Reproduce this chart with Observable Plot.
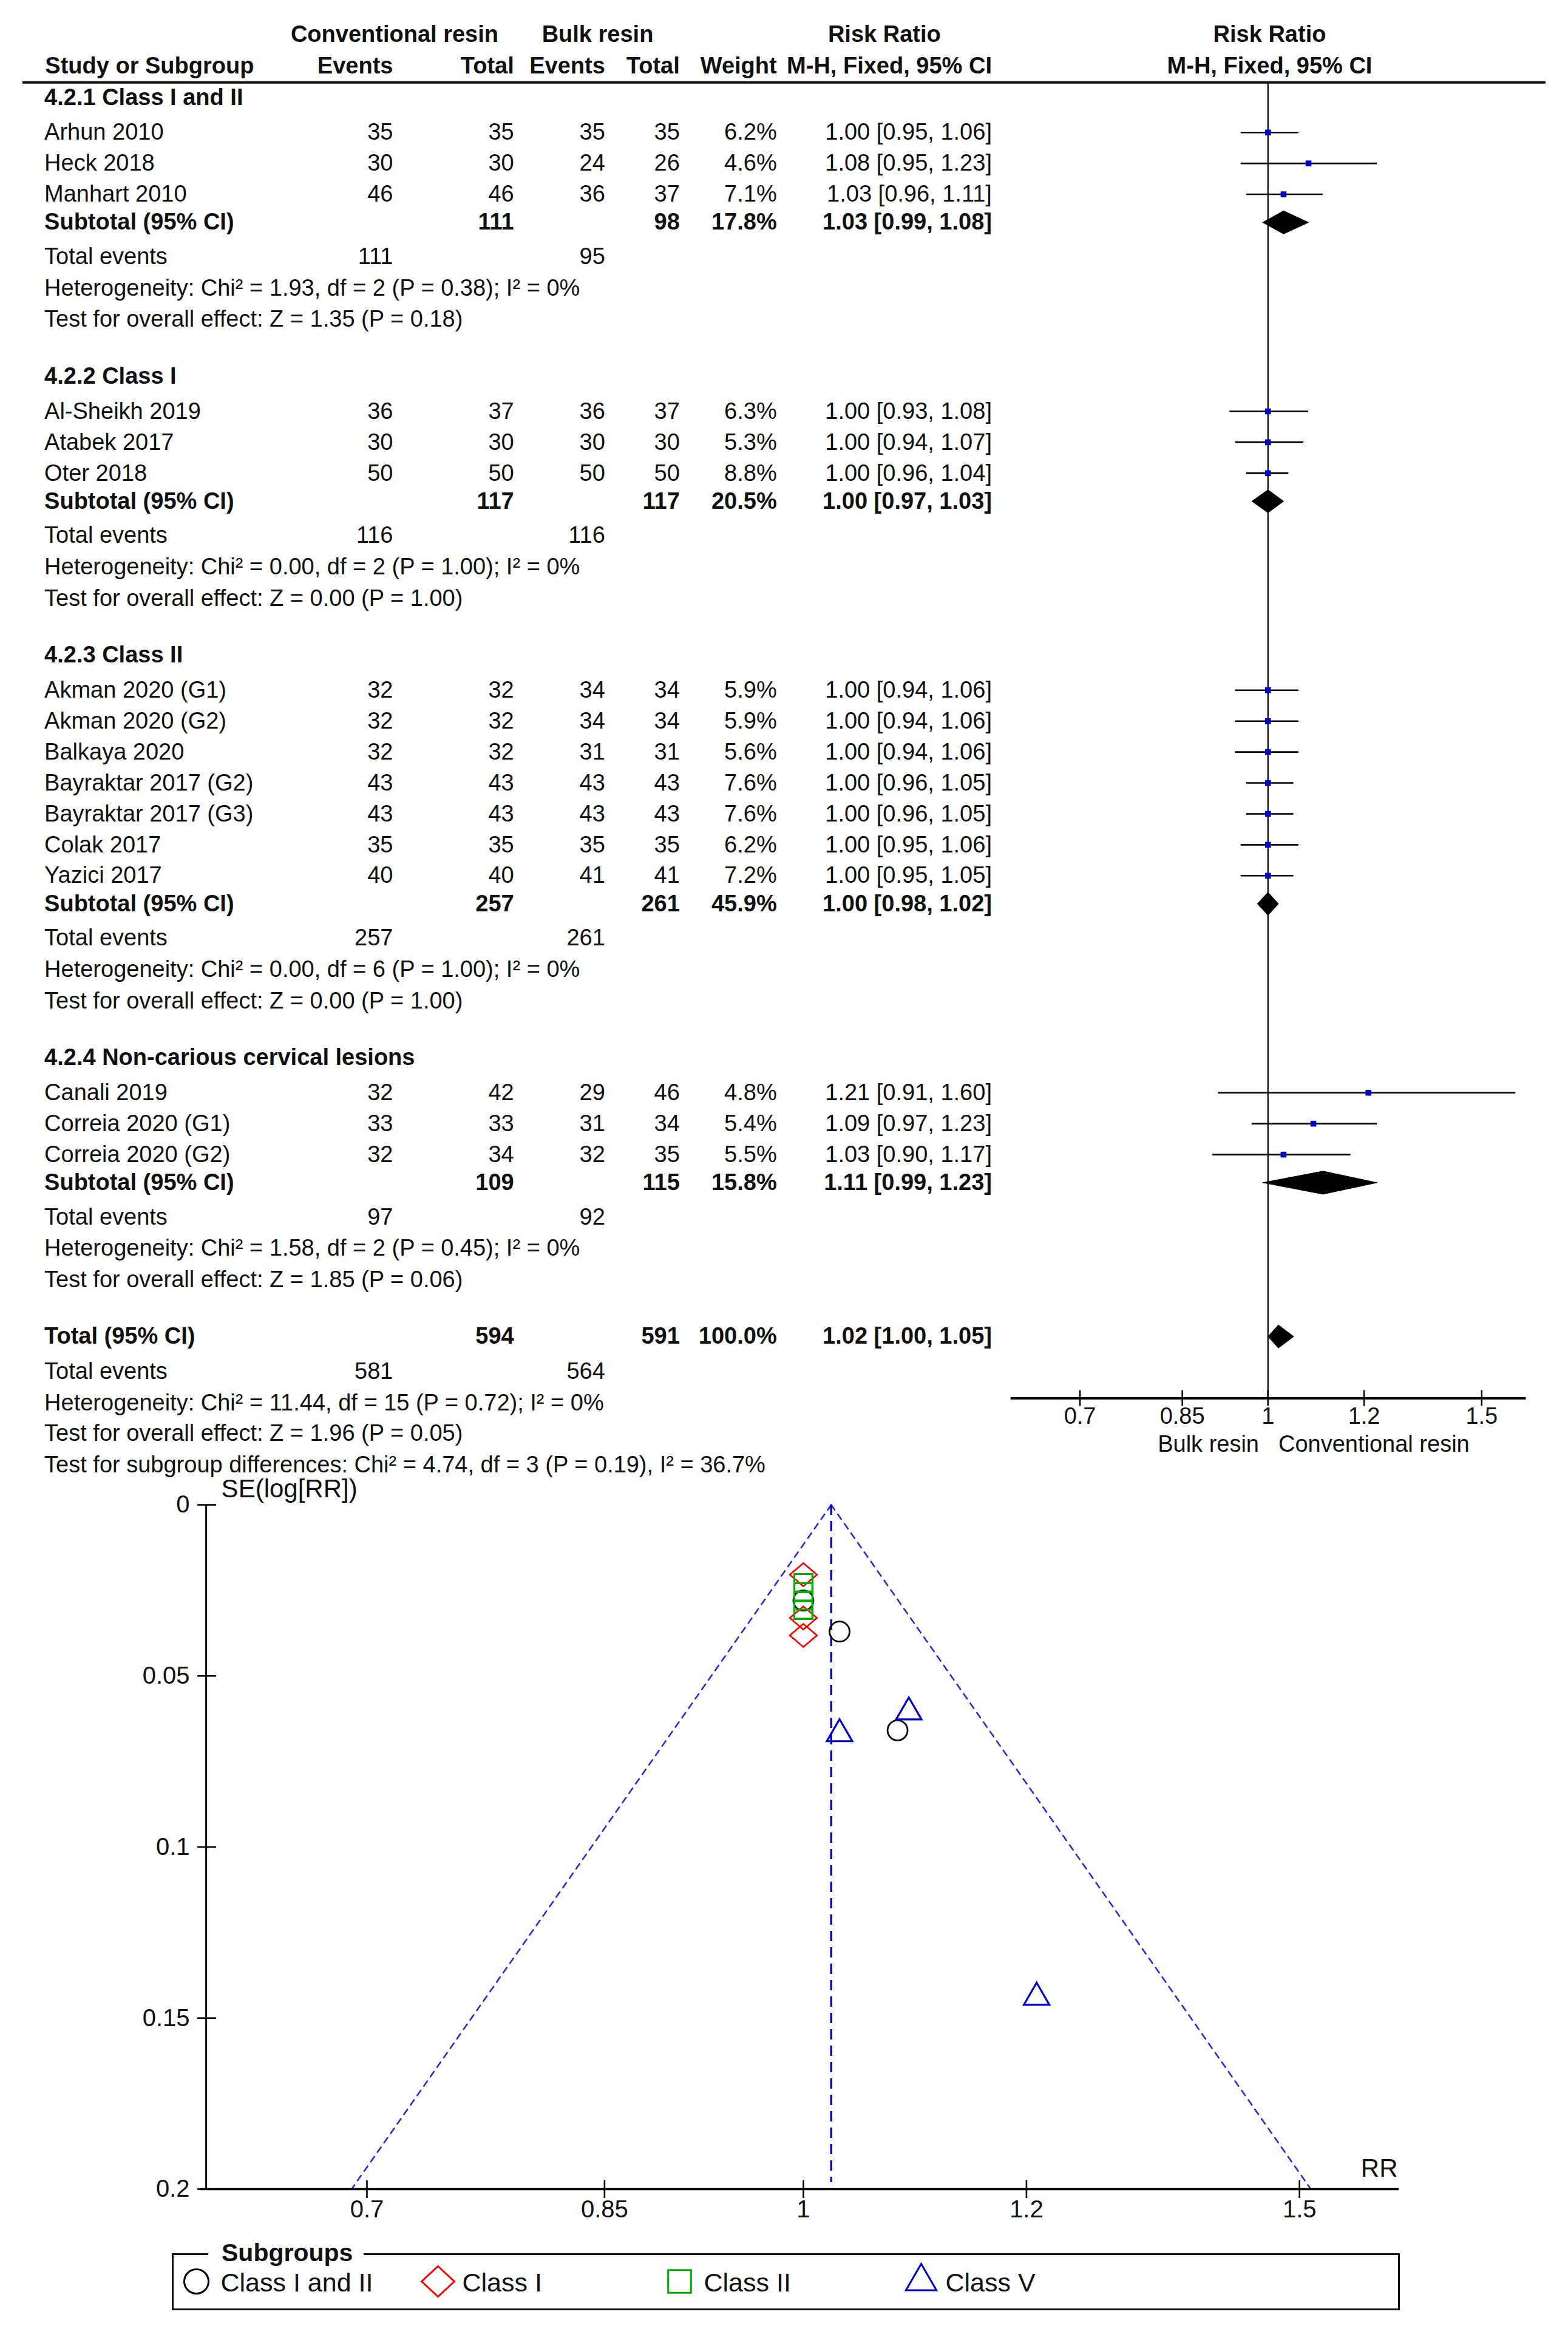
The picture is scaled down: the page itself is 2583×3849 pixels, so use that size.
<!DOCTYPE html>
<html><head><meta charset="utf-8"><title>Forest and funnel plot</title>
<script src="https://cdn.jsdelivr.net/npm/d3@7"></script>
<script src="https://cdn.jsdelivr.net/npm/@observablehq/plot@0.6"></script>
<style>
html,body{margin:0;padding:0;background:#fff}
body{position:relative;width:2583px;height:3849px;overflow:hidden}
.abs{position:absolute}
#lgbox{position:absolute;left:283px;top:3711px;width:2023px;height:94px;box-sizing:border-box;border:3px solid #111}
#lgtitle{position:absolute;left:343px;top:3690px;padding:0 18px 0 22px;background:#fff;font:bold 41px/1 "Liberation Sans",Arial,sans-serif;color:#111}
</style></head><body>
<div id="forest" class="abs" style="left:0;top:0"></div>
<div id="funnel" class="abs" style="left:0;top:2435px"></div>
<div id="lgbox"></div>
<div id="legend" class="abs" style="left:284px;top:3711px"></div>
<div id="lgtitle">Subgroups</div>
<script>
// ===================== DATA =====================
const groupTitles = ["4.2.1 Class I and II", "4.2.2 Class I", "4.2.3 Class II", "4.2.4 Non-carious cervical lesions"];
const legendNames = ["Class I and II", "Class I", "Class II", "Class V"];
const studyNames = ["Arhun 2010", "Heck 2018", "Manhart 2010", "Al-Sheikh 2019", "Atabek 2017", "Oter 2018",
  "Akman 2020 (G1)", "Akman 2020 (G2)", "Balkaya 2020", "Bayraktar 2017 (G2)", "Bayraktar 2017 (G3)", "Colak 2017", "Yazici 2017",
  "Canali 2019", "Correia 2020 (G1)", "Correia 2020 (G2)"];
const studyGroup = [0,0,0, 1,1,1, 2,2,2,2,2,2,2, 3,3,3];
const convEvents = [35,30,46, 36,30,50, 32,32,32,43,43,35,40, 32,33,32];
const convTotal  = [35,30,46, 37,30,50, 32,32,32,43,43,35,40, 42,33,34];
const bulkEvents = [35,24,36, 36,30,50, 34,34,31,43,43,35,41, 29,31,32];
const bulkTotal  = [35,26,37, 37,30,50, 34,34,31,43,43,35,41, 46,34,35];
const weights    = [6.2,4.6,7.1, 6.3,5.3,8.8, 5.9,5.9,5.6,7.6,7.6,6.2,7.2, 4.8,5.4,5.5];
const rrEst  = [1.00,1.08,1.03, 1.00,1.00,1.00, 1.00,1.00,1.00,1.00,1.00,1.00,1.00, 1.21,1.09,1.03];
const rrLow  = [0.95,0.95,0.96, 0.93,0.94,0.96, 0.94,0.94,0.94,0.96,0.96,0.95,0.95, 0.91,0.97,0.90];
const rrHigh = [1.06,1.23,1.11, 1.08,1.07,1.04, 1.06,1.06,1.06,1.05,1.05,1.06,1.05, 1.60,1.23,1.17];

const subConvEvents = [111,116,257,97];
const subConvTotal  = [111,117,257,109];
const subBulkEvents = [95,116,261,92];
const subBulkTotal  = [98,117,261,115];
const subWeight = [17.8,20.5,45.9,15.8];
const subRR   = [1.03,1.00,1.00,1.11];
const subLow  = [0.99,0.97,0.98,0.99];
const subHigh = [1.08,1.03,1.02,1.23];
const subHet = ["Chi\u00B2 = 1.93, df = 2 (P = 0.38); I\u00B2 = 0%", "Chi\u00B2 = 0.00, df = 2 (P = 1.00); I\u00B2 = 0%",
  "Chi\u00B2 = 0.00, df = 6 (P = 1.00); I\u00B2 = 0%", "Chi\u00B2 = 1.58, df = 2 (P = 0.45); I\u00B2 = 0%"];
const subZ = ["Z = 1.35 (P = 0.18)", "Z = 0.00 (P = 1.00)", "Z = 0.00 (P = 1.00)", "Z = 1.85 (P = 0.06)"];

const totalConvEvents = 581, totalConvTotal = 594, totalBulkEvents = 564, totalBulkTotal = 591;
const totalWeight = 100.0, totalRR = 1.02, totalLow = 1.00, totalHigh = 1.05;
const totalHet = "Chi\u00B2 = 11.44, df = 15 (P = 0.72); I\u00B2 = 0%";
const totalZ = "Z = 1.96 (P = 0.05)";
const subgroupDiff = "Chi\u00B2 = 4.74, df = 3 (P = 0.19), I\u00B2 = 36.7%";

const forestTicks = [0.7, 0.85, 1, 1.2, 1.5];
const funnelXTicks = [0.7, 0.85, 1, 1.2, 1.5];
const funnelYTicks = [0, 0.05, 0.1, 0.15, 0.2];
const funnelCenter = 1.023;   // pooled RR line as read from the funnel
const funnelSE = [0, 0.2];

// ===================== LAYOUT =====================
const S = 2583 / 1050;            // reference drawn at 1050 units wide
const px = v => v * S;
const FONT = "Liberation Sans, Arial, Helvetica, sans-serif";
const TXT = 38, FTXT = 40;
const W = 2583, H1 = 2435, H2 = 1265;
const mL = px(15), mR = px(15);
const col = {name: 29.5, ce: 263, ct: 344, be: 405, bt: 455, w: 520, rr: 664, plot: 850};
const headerLineY = px(55), axisY = px(936);
const fmt2 = v => v.toFixed(2);
const rrText = (r, l, h) => `${fmt2(r)} [${fmt2(l)}, ${fmt2(h)}]`;

// build table rows (display-unit y, converted with px)
const rows = [];
const diamonds = [];
let y = 65;
groupTitles.forEach((t, g) => {
  rows.push({y, label: t, bold: true});
  y += 23.5;
  const idx = studyNames.map((_, i) => i).filter(i => studyGroup[i] === g);
  idx.forEach((i, k) => {
    if (k) y += 20.7;
    rows.push({y, study: i, label: studyNames[i], ce: convEvents[i], ct: convTotal[i], be: bulkEvents[i], bt: bulkTotal[i],
      w: weights[i].toFixed(1) + "%", rr: rrText(rrEst[i], rrLow[i], rrHigh[i])});
  });
  y += 18.8;
  rows.push({y, bold: true, label: "Subtotal (95% CI)", ct: subConvTotal[g], bt: subBulkTotal[g], w: subWeight[g].toFixed(1) + "%",
    rr: rrText(subRR[g], subLow[g], subHigh[g])});
  diamonds.push({z: g, est: subRR[g], lo: subLow[g], hi: subHigh[g], y});
  y += 23;
  rows.push({y, label: "Total events", ce: subConvEvents[g], be: subBulkEvents[g]});
  y += 21;
  rows.push({y, label: "Heterogeneity: " + subHet[g]});
  y += 21;
  rows.push({y, label: "Test for overall effect: " + subZ[g]});
  y += 38;
});
rows.push({y, bold: true, label: "Total (95% CI)", ct: totalConvTotal, bt: totalBulkTotal, w: totalWeight.toFixed(1) + "%",
  rr: rrText(totalRR, totalLow, totalHigh)});
diamonds.push({z: 4, est: totalRR, lo: totalLow, hi: totalHigh, y});
y += 23.5; rows.push({y, label: "Total events", ce: totalConvEvents, be: totalBulkEvents});
y += 21;   rows.push({y, label: "Heterogeneity: " + totalHet});
y += 20.5; rows.push({y, label: "Test for overall effect: " + totalZ});
y += 21;   rows.push({y, label: "Test for subgroup differences: " + subgroupDiff});

const headers = [
  {y: 23, t: "Conventional resin", at: 264, a: "middle"},
  {y: 23, t: "Bulk resin", at: 400, a: "middle"},
  {y: 23, t: "Risk Ratio", at: 592, a: "middle"},
  {y: 23, t: "Risk Ratio", at: col.plot, a: "middle"},
  {y: 44, t: "Study or Subgroup", at: 30, a: "start"},
  {y: 44, t: "Events", at: col.ce, a: "end"},
  {y: 44, t: "Total", at: col.ct, a: "end"},
  {y: 44, t: "Events", at: col.be, a: "end"},
  {y: 44, t: "Total", at: col.bt, a: "end"},
  {y: 44, t: "Weight", at: col.w, a: "end"},
  {y: 44, t: "M-H, Fixed, 95% CI", at: col.rr, a: "end"},
  {y: 44, t: "M-H, Fixed, 95% CI", at: col.plot, a: "middle"}
];

function colMarks(field, at, anchor) {
  const data = rows.filter(d => d[field] !== undefined);
  return [false, true].map(b => Plot.text(data.filter(d => !!d.bold === b), {
    y: d => px(d.y), text: field, frameAnchor: "left", dx: px(at) - mL, textAnchor: anchor,
    fontSize: TXT, fontFamily: FONT, fontWeight: b ? "bold" : "normal", fill: "#111"
  }));
}

const studyRows = rows.filter(d => d.study !== undefined);
const dh = 19;
const diamondPts = diamonds.flatMap(d => [
  {z: d.z, x: d.lo, y: px(d.y)}, {z: d.z, x: d.est, y: px(d.y) - dh},
  {z: d.z, x: d.hi, y: px(d.y)}, {z: d.z, x: d.est, y: px(d.y) + dh}, {z: d.z, x: d.lo, y: px(d.y)}
]);

const forest = Plot.plot({
  width: W, height: H1, marginLeft: mL, marginRight: mR, marginTop: 0, marginBottom: 0,
  style: {background: "transparent", overflow: "visible", maxWidth: "none"},
  x: {type: "log", domain: [0.7, 1.5], range: [px(723), px(992)], axis: null},
  y: {type: "linear", domain: [0, H1], range: [0, H1], axis: null},
  marks: [
    ...headers.map(h => Plot.text([h], {y: d => px(d.y), text: "t", frameAnchor: "left", dx: px(h.at) - mL, textAnchor: h.a,
      fontSize: TXT, fontFamily: FONT, fontWeight: "bold", fill: "#111"})),
    Plot.ruleY([headerLineY], {stroke: "#111", strokeWidth: 4}),
    ...colMarks("label", col.name, "start"),
    ...colMarks("ce", col.ce, "end"),
    ...colMarks("ct", col.ct, "end"),
    ...colMarks("be", col.be, "end"),
    ...colMarks("bt", col.bt, "end"),
    ...colMarks("w", col.w, "end"),
    ...colMarks("rr", col.rr, "end"),
    Plot.ruleX([1], {y1: headerLineY, y2: axisY, stroke: "#222", strokeWidth: 2.5}),
    Plot.ruleY(studyRows, {x1: d => rrLow[d.study], x2: d => rrHigh[d.study], y: d => px(d.y), stroke: "#000", strokeWidth: 2.6}),
    Plot.dot(studyRows, {x: d => rrEst[d.study], y: d => px(d.y), symbol: "square", r: 5.4, fill: "#0000c8", stroke: "none"}),
    Plot.line(diamondPts, {x: "x", y: "y", z: "z", fill: "#000", stroke: "#000", strokeWidth: 1}),
    Plot.ruleY([axisY], {x1: 0.614, x2: 1.632, stroke: "#000", strokeWidth: 4}),
    Plot.ruleX(forestTicks, {x: d => d, y1: axisY - 13, y2: axisY + 13, stroke: "#000", strokeWidth: 2.5}),
    Plot.text(forestTicks, {x: d => d, y: () => px(948), text: d => String(d), fontSize: TXT, fontFamily: FONT, fill: "#111"}),
    Plot.text(["Bulk resin"], {x: () => 1, y: () => px(967), text: d => d, dx: -px(6), textAnchor: "end", fontSize: TXT, fontFamily: FONT, fill: "#111"}),
    Plot.text(["Conventional resin"], {x: () => 1, y: () => px(967), text: d => d, dx: px(7), textAnchor: "start", fontSize: TXT, fontFamily: FONT, fill: "#111"})
  ]
});
document.getElementById("forest").append(forest);

// ===================== FUNNEL =====================
const top2 = 2435;
const funnelAxisAt = 0.6138;            // RR where the SE axis sits
const funnelXExtent = [0.611, 1.627];
const funnelPts = studyNames.map((n, i) => ({g: studyGroup[i], rr: rrEst[i], se: (Math.log(rrHigh[i]) - Math.log(rrLow[i])) / (2 * 1.96)}));
const limits = [-1.96, 1.96].flatMap((zz, j) => funnelSE.map(se => ({side: j, se, rr: funnelCenter * Math.exp(zz * se)})));

const diamondShape = (wk, hk) => ({draw(ctx, size) { const r = Math.sqrt(size / Math.PI); const w = r * wk, h = r * hk;
  ctx.moveTo(0, -h); ctx.lineTo(w, 0); ctx.lineTo(0, h); ctx.lineTo(-w, 0); ctx.closePath(); }});
const groupStyle = [
  {symbol: "circle", r: 16.5, stroke: "#000", sw: 2.8},
  {symbol: diamondShape(1.12, 0.95), r: 20, stroke: "#ff0000", sw: 2.6},
  {symbol: "square2", r: 19, stroke: "#00b000", sw: 3},
  {symbol: "triangle2", r: 20, stroke: "#0000cc", sw: 3.2}
];

const funnel = Plot.plot({
  width: W, height: H2, marginLeft: 0, marginRight: 0, marginTop: 0, marginBottom: 0,
  style: {background: "transparent", overflow: "visible", maxWidth: "none"},
  x: {type: "log", domain: [0.7, 1.5], range: [604, px(870)], axis: null},
  y: {type: "linear", domain: [0, 0.2], range: [2478 - top2, 3605 - top2], axis: null},
  marks: [
    Plot.line(limits, {x: "rr", y: "se", z: "side", stroke: "#2a2ad8", strokeWidth: 2.6, strokeDasharray: "10 9"}),
    Plot.ruleX([funnelCenter], {y1: 0, y2: 0.198, stroke: "#0000cc", strokeWidth: 3.4, strokeDasharray: "17 10"}),
    Plot.ruleX([funnelAxisAt], {y1: 0, y2: 0.2, stroke: "#000", strokeWidth: 3}),
    Plot.ruleY([0.2], {x1: funnelXExtent[0], x2: funnelXExtent[1], stroke: "#000", strokeWidth: 3.5}),
    Plot.ruleY(funnelYTicks, {y: d => d, x1: funnelAxisAt, x2: funnelAxisAt, insetLeft: -14, insetRight: -17, stroke: "#000", strokeWidth: 2.6}),
    Plot.ruleX(funnelXTicks, {x: d => d, y1: 0.2, y2: 0.2, insetTop: -14, insetBottom: -15, stroke: "#000", strokeWidth: 2.6}),
    Plot.text(funnelYTicks, {x: () => funnelAxisAt, y: d => d, text: d => String(d), dx: -27, textAnchor: "end", fontSize: FTXT, fontFamily: FONT, fill: "#111"}),
    Plot.text(funnelXTicks, {x: d => d, y: () => 0.2, text: d => String(d), dy: 34, fontSize: FTXT, fontFamily: FONT, fill: "#111"}),
    Plot.text(["SE(log[RR])"], {x: () => funnelAxisAt, y: () => 0, text: d => d, dx: 25, dy: -26, textAnchor: "start", fontSize: FTXT + 2, fontFamily: FONT, fill: "#111"}),
    Plot.text(["RR"], {x: () => funnelXExtent[1], y: () => 0.2, text: d => d, dx: -2, dy: -34, textAnchor: "end", fontSize: FTXT + 2, fontFamily: FONT, fill: "#111"}),
    ...groupStyle.map((s, g) => Plot.dot(funnelPts.filter(d => d.g === g), {x: "rr", y: "se", symbol: s.symbol, r: s.r,
      stroke: s.stroke, strokeWidth: s.sw, fill: "none"}))
  ]
});
document.getElementById("funnel").append(funnel);

// ===================== LEGEND =====================
const legendStyle = [
  {symbol: "circle", r: 20, stroke: "#000"},
  {symbol: diamondShape(1.1, 1.02), r: 24.5, stroke: "#ff0000"},
  {symbol: "square2", r: 24, stroke: "#00b000"},
  {symbol: "triangle2", r: 24, stroke: "#0000cc"}
];
const legendItems = legendNames.map((n, i) => ({n, i}));
const legend = Plot.plot({
  width: 2022, height: 94, margin: 0,
  style: {background: "transparent", overflow: "visible", maxWidth: "none"},
  x: {type: "point", domain: legendNames, range: [38, 1234], padding: 0, axis: null},
  marks: [
    ...legendStyle.map((s, i) => Plot.dot(legendItems.filter(d => d.i === i), {x: "n", symbol: s.symbol, r: s.r, stroke: s.stroke, strokeWidth: 3, fill: "none", dy: -1})),
    Plot.text(legendItems, {x: "n", text: "n", dx: 40, dy: 2, textAnchor: "start", fontSize: 43, fontFamily: FONT, fill: "#111"})
  ]
});
document.getElementById("legend").append(legend);
</script>
</body></html>
